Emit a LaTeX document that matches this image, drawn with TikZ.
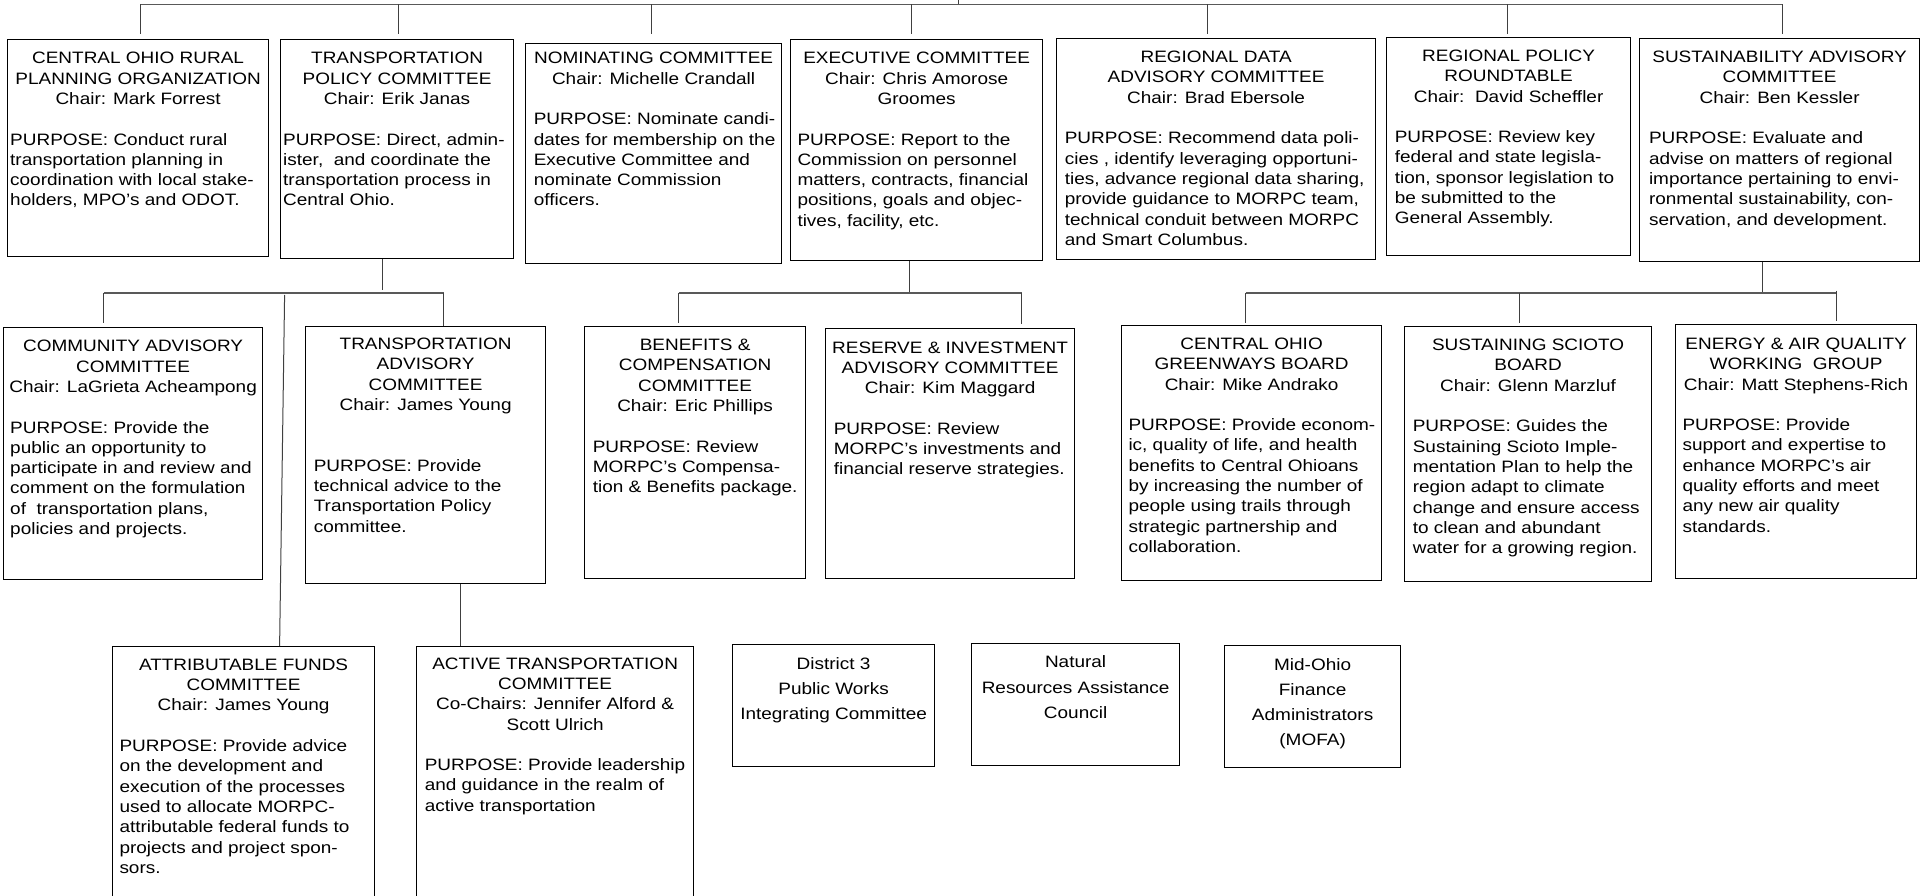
\documentclass[tikz,border=0pt]{standalone}
\usepackage{fontspec}
\newfontfamily\orgfont{Liberation Sans}[FakeStretch=1.15]
\usetikzlibrary{calc}
\tikzset{
  box/.style={draw=black, line width=1.2pt, rectangle, inner sep=0pt},
  conn/.style={draw=black!75, line width=1pt},
  hbar/.style={draw=black!65, line width=1.4pt},
  ttl/.style={inner sep=0pt, align=center, font=\orgfont\fontsize{16.5}{20.3}\selectfont},
  purp/.style={inner sep=0pt, align=left, font=\orgfont\fontsize{16.5}{20.3}\selectfont},
  ttlb/.style={inner sep=0pt, align=center, font=\orgfont\fontsize{16.5}{25.1}\selectfont},
}
\newcommand\obox[5]{\node[box, minimum width={#4-#2}, minimum height={#5-#3}, anchor=north west] (#1) at (#2,-#3) {};}
\newcommand\otitle[3]{\node[ttl, anchor=north] (#1-t) at ([yshift={14.21-(#2)}]#1.north) {\strut #3};}
\newcommand\opurp[4]{\node[purp, anchor=north west] (#1-p) at ([xshift=#3, yshift={14.21-(#2)}]#1.north west) {\strut #4};}
\newcommand\otitleb[3]{\node[ttlb, anchor=north] (#1-t) at ([yshift={17.57-(#2)}]#1.north) {\strut #3};}
\begin{document}
\begin{tikzpicture}[x=1pt,y=1pt]
\useasboundingbox (0,0) rectangle (1921,-896);
\clip (0,0) rectangle (1921,-896);
% ---------- boxes ----------
\obox{corpo}{7}{39}{268}{256}
\obox{tpc}{280}{39}{513}{258}
\obox{nom}{525}{43}{781}{263}
\obox{exe}{790}{39}{1042}{260}
\obox{rdac}{1056}{38}{1375}{259}
\obox{rpr}{1386}{37}{1630}{255}
\obox{sac}{1639}{38}{1919}{261}
\obox{cac}{3}{327}{262}{579}
\obox{tac}{305}{326}{545}{583}
\obox{ben}{584}{326}{805}{578}
\obox{res}{825}{328}{1074}{578}
\obox{cog}{1121}{325}{1381}{580}
\obox{ssb}{1404}{326}{1651}{581}
\obox{eaq}{1675}{324}{1916}{578}
\obox{afc}{112}{646}{374}{910}
\obox{atc}{416}{646}{693}{910}
\obox{pwic}{732}{644}{934}{766}
\obox{nrac}{971}{643}{1179}{765}
\obox{mofa}{1224}{645}{1400}{767}
% ---------- texts ----------
\otitle{corpo}{24.7}{CENTRAL OHIO RURAL\\PLANNING ORGANIZATION\\Chair: Mark Forrest}
\opurp{corpo}{105.9}{3}{PURPOSE: Conduct rural\\transportation planning in\\coordination with local stake-\\holders, MPO’s and ODOT.}
\otitle{tpc}{24.7}{TRANSPORTATION\\POLICY COMMITTEE\\Chair: Erik Janas}
\opurp{tpc}{105.9}{3}{PURPOSE: Direct, admin-\\ister,\ \ and coordinate the\\transportation process in\\Central Ohio.}
\otitle{nom}{20.7}{NOMINATING COMMITTEE\\Chair: Michelle Crandall}
\opurp{nom}{81.6}{8.6}{PURPOSE: Nominate candi-\\dates for membership on the\\Executive Committee and\\nominate Commission\\officers.}
\otitle{exe}{24.7}{EXECUTIVE COMMITTEE\\Chair: Chris Amorose\\Groomes}
\opurp{exe}{105.9}{7.3}{PURPOSE: Report to the\\Commission on personnel\\matters, contracts, financial\\positions, goals and objec-\\tives, facility, etc.}
\otitle{rdac}{24.5}{REGIONAL DATA\\ADVISORY COMMITTEE\\Chair: Brad Ebersole}
\opurp{rdac}{105.7}{8.6}{PURPOSE: Recommend data poli-\\cies , identify leveraging opportuni-\\ties, advance regional data sharing,\\provide guidance to MORPC team,\\technical conduit between MORPC\\and Smart Columbus.}
\otitle{rpr}{24.3}{REGIONAL POLICY\\ROUNDTABLE\\Chair:\ \ David Scheffler}
\opurp{rpr}{105.5}{8.6}{PURPOSE: Review key\\federal and state legisla-\\tion, sponsor legislation to\\be submitted to the\\General Assembly.}
\otitle{sac}{24.5}{SUSTAINABILITY ADVISORY\\COMMITTEE\\Chair: Ben Kessler}
\opurp{sac}{105.7}{9.8}{PURPOSE: Evaluate and\\advise on matters of regional\\importance pertaining to envi-\\ronmental sustainability, con-\\servation, and development.}
\otitle{cac}{24.6}{COMMUNITY ADVISORY\\COMMITTEE\\Chair: LaGrieta Acheampong}
\opurp{cac}{105.8}{7}{PURPOSE: Provide the\\public an opportunity to\\participate in and review and\\comment on the formulation\\of\ \ transportation plans,\\policies and projects.}
\otitle{tac}{23.2}{TRANSPORTATION\\ADVISORY\\COMMITTEE\\Chair: James Young}
\opurp{tac}{145}{8.6}{PURPOSE: Provide\\technical advice to the\\Transportation Policy\\committee.}
\otitle{ben}{24.4}{BENEFITS \&\\COMPENSATION\\COMMITTEE\\Chair: Eric Phillips}
\opurp{ben}{125.9}{8.6}{PURPOSE: Review\\MORPC’s Compensa-\\tion \& Benefits package.}
\otitle{res}{24.8}{RESERVE \& INVESTMENT\\ADVISORY COMMITTEE\\Chair: Kim Maggard}
\opurp{res}{106}{8.6}{PURPOSE: Review\\MORPC’s investments and\\financial reserve strategies.}
\otitle{cog}{24.2}{CENTRAL OHIO\\GREENWAYS BOARD\\Chair: Mike Andrako}
\opurp{cog}{105.4}{7.3}{PURPOSE: Provide econom-\\ic, quality of life, and health\\benefits to Central Ohioans\\by increasing the number of\\people using trails through\\strategic partnership and\\collaboration.}
\otitle{ssb}{24.4}{SUSTAINING SCIOTO\\BOARD\\Chair: Glenn Marzluf}
\opurp{ssb}{105.6}{8.6}{PURPOSE: Guides the\\Sustaining Scioto Imple-\\mentation Plan to help the\\region adapt to climate\\change and ensure access\\to clean and abundant\\water for a growing region.}
\otitle{eaq}{25.2}{ENERGY \& AIR QUALITY\\WORKING\ \ GROUP\\Chair: Matt Stephens-Rich}
\opurp{eaq}{106.4}{7.3}{PURPOSE: Provide\\support and expertise to\\enhance MORPC’s air\\quality efforts and meet\\any new air quality\\standards.}
\otitle{afc}{24.1}{ATTRIBUTABLE FUNDS\\COMMITTEE\\Chair: James Young}
\opurp{afc}{105.3}{7.3}{PURPOSE: Provide advice\\on the development and\\execution of the processes\\used to allocate MORPC-\\attributable federal funds to\\projects and project spon-\\sors.}
\otitle{atc}{22.9}{ACTIVE TRANSPORTATION\\COMMITTEE\\Co-Chairs: Jennifer Alford \&\\Scott Ulrich}
\opurp{atc}{124.4}{8.6}{PURPOSE: Provide leadership\\and guidance in the realm of\\active transportation}
\otitleb{pwic}{24.9}{District 3\\Public Works\\Integrating Committee}
\otitleb{nrac}{24.7}{Natural\\Resources Assistance\\Council}
\otitleb{mofa}{25.1}{Mid-Ohio\\Finance\\Administrators\\(MOFA)}
% ---------- top level connectors ----------
\coordinate (root) at (958,0);
\coordinate (busA) at (0,-4.5);
\coordinate (endA) at (0,-34);
\coordinate (busB) at (0,-293);
\coordinate (k1) at ([xshift=2.5]corpo.north);
\coordinate (k2) at ([xshift=1.5]tpc.north);
\coordinate (k3) at ([xshift=-2]nom.north);
\coordinate (k4) at ([xshift=-5]exe.north);
\coordinate (k5) at ([xshift=-8.5]rdac.north);
\coordinate (k6) at ([xshift=-1]rpr.north);
\coordinate (k7) at ([xshift=3]sac.north);
\draw[hbar] (k1 |- busA) -- (k7 |- busA);
\draw[conn] (root) -- (root |- busA);
\foreach \i in {1,...,7}{\draw[conn] (k\i |- busA) -- (k\i |- endA);}
% ---------- transportation policy subtree ----------
\coordinate (t0) at ([xshift=-14.5]tpc.south);
\coordinate (t1) at ([xshift=-29.5]cac.north);
\coordinate (t2) at ([xshift=18]tac.north);
\coordinate (t3) at ([xshift=36]afc.north);
\coordinate (t3a) at ([xshift=41]afc.north);
\coordinate (t4) at ([xshift=35]tac.south);
\draw[conn] (t0) -- ([yshift=-31]t0);
\draw[hbar] (t1 |- busB) -- (t2 |- busB);
\draw[conn] (t1 |- busB) -- ([yshift=4]t1);
\draw[conn] (t2 |- busB) -- (t2);
\draw[conn] (t3a |- busB) ++(0,-2) -- (t3);
\draw[conn] (t4) -- (t4 |- atc.north);
% ---------- executive subtree ----------
\coordinate (e0) at ([xshift=-7]exe.south);
\coordinate (e1) at ([xshift=-16.5]ben.north);
\coordinate (e2) at ([xshift=71.5]res.north);
\draw[conn] (e0) -- (e0 |- busB);
\draw[hbar] (e1 |- busB) -- (e2 |- busB);
\draw[conn] (e1 |- busB) -- ([yshift=3]e1);
\draw[conn] (e2 |- busB) -- ([yshift=4]e2);
% ---------- sustainability subtree ----------
\coordinate (s0) at ([xshift=-17]sac.south);
\coordinate (s1) at ([xshift=-6]cog.north);
\coordinate (s2) at ([xshift=-8.5]ssb.north);
\coordinate (s3) at ([xshift=40.5]eaq.north);
\draw[conn] (s0) -- (s0 |- busB);
\draw[hbar] (s1 |- busB) -- (s3 |- busB);
\draw[conn] (s1 |- busB) -- ([yshift=2]s1);
\draw[conn] (s2 |- busB) -- ([yshift=3]s2);
\draw[conn] (s3 |- busB) ++(0,2.5) -- ([yshift=3]s3);
\end{tikzpicture}
\end{document}
